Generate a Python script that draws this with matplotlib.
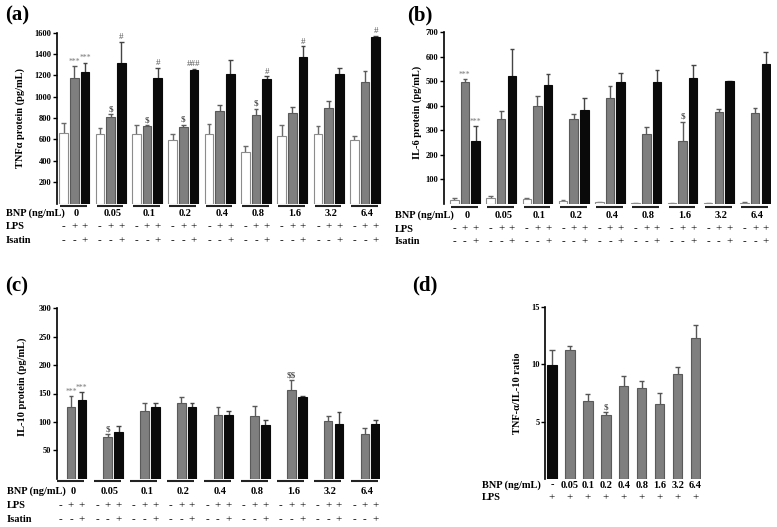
import matplotlib
matplotlib.use('Agg')
import matplotlib.pyplot as plt
import numpy as np
from matplotlib.transforms import blended_transform_factory as btf

# ---------------- data ----------------
bnp_labels = ['0', '0.05', '0.1', '0.2', '0.4', '0.8', '1.6', '3.2', '6.4']
lps_signs = ['-', '+', '+']
isatin_signs = ['-', '-', '+']

tnf_ctrl = [656, 653, 647, 594, 647, 482, 628, 650, 591]
tnf_ctrl_err = [94, 50, 93, 53, 96, 53, 103, 78, 40]
tnf_lps = [1179, 809, 728, 712, 865, 833, 852, 899, 1138]
tnf_lps_err = [105, 25, 6, 28, 62, 56, 56, 65, 103]
tnf_isa = [1235, 1319, 1179, 1253, 1210, 1166, 1371, 1210, 1558]
tnf_isa_err = [84, 196, 93, 7, 130, 25, 100, 59, 12]
tnf_marks_lps = ['***', '$', '$', '$', '', '$', '', '', '']
tnf_marks_isa = ['***', '#', '#', '###', '', '#', '#', '', '#']

il6_ctrl = [16, 24, 20, 10, 5, 2, 1, 1, 4]
il6_ctrl_err = [6, 9, 4, 6, 3, 1, 0.5, 0.5, 2]
il6_lps = [497, 344, 399, 344, 431, 284, 258, 374, 371]
il6_lps_err = [11, 36, 40, 21, 51, 30, 77, 11, 19]
il6_isa = [255, 522, 484, 384, 498, 497, 512, 501, 570]
il6_isa_err = [61, 108, 44, 49, 34, 51, 53, 2, 48]
il6_marks_lps = ['***', '', '', '', '', '', '$', '', '']
il6_marks_isa = ['***', '', '', '', '', '', '', '', '']

il10_lps = [127, 74, 120, 133, 112, 110, 156, 102, 79]
il10_lps_err = [18, 5, 14, 10, 14, 18, 17, 9, 11]
il10_isa = [139, 82, 127, 126, 112, 94, 143, 97, 96]
il10_isa_err = [13, 11, 6, 8, 7, 9, 3, 20, 8]
il10_marks_lps = ['***', '$', '', '', '', '', '$$', '', '']
il10_marks_isa = ['***', '', '', '', '', '', '', '', '']

ratio_labels = ['-', '0.05', '0.1', '0.2', '0.4', '0.8', '1.6', '3.2', '6.4']
ratio_vals = [9.93, 11.23, 6.8, 5.55, 8.1, 7.9, 6.5, 9.12, 12.25]
ratio_err = [1.27, 0.32, 0.58, 0.26, 0.84, 0.64, 0.96, 0.6, 1.15]
ratio_marks = ['', '', '', '$', '', '', '', '', '']

# ---------------- style ----------------
plt.rcParams['font.family'] = ['Liberation Serif', 'DejaVu Serif']
plt.rcParams['text.parse_math'] = False
W, H = 777, 527
fig = plt.figure(figsize=(W / 100, H / 100), dpi=100)

WHITE, GRAY, BLACK = '#ffffff', '#7f7f7f', '#0a0a0a'
GAP, BW = 3.4, 0.8
centers = np.arange(len(bnp_labels)) * GAP


def pxy(y):
    return 1 - y / H


def add_ax(l, t, r, b):
    return fig.add_axes([l / W, 1 - b / H, (r - l) / W, (b - t) / H])


def style(ax, ymax, ticks, ylabel, labx, laby=0.5):
    ax.set_ylim(0, ymax)
    ax.set_yticks(ticks)
    for s in ['top', 'right', 'bottom']:
        ax.spines[s].set_visible(False)
    ax.spines['left'].set_linewidth(1.2)
    ax.tick_params(axis='y', length=3, width=1, labelsize=6, pad=1)
    ax.tick_params(axis='x', bottom=False, labelbottom=False)
    for t in ax.get_yticklabels():
        t.set_fontweight('bold')
    ax.set_ylabel(ylabel, fontsize=7.5, fontweight='bold')
    ax.yaxis.set_label_coords(labx, laby)


def bars(ax, xs, vals, errs, face, edge, ecol, width=BW, cw=0.22, marks=None, mcol='#555555'):
    vals = np.asarray(vals, float)
    errs = np.asarray(errs, float)
    ax.bar(xs, vals, width=width, color=face, edgecolor=edge, linewidth=0.8, zorder=2)
    ax.vlines(xs, vals, vals + errs, color=ecol, lw=1.0, zorder=1)
    ax.hlines(vals + errs, xs - cw, xs + cw, color=ecol, lw=1.0, zorder=1)
    if marks:
        for x, v, e, m in zip(xs, vals, errs, marks):
            if m:
                star = m.startswith('*')
                ax.annotate(m, (x, v + e), xytext=(0, 0.5), textcoords='offset points',
                            ha='center', va='bottom', fontsize=5.5 if star else 6.5,
                            color='#777777' if star else mcol,
                            fontweight='bold' if '$' in m else 'normal')


def rows(ax, labels, y_bnp, y_lps, y_isa, y_line, lab_x):
    tr = btf(ax.transData, fig.transFigure)
    for c, lab in zip(centers, labels):
        ax.plot([c - 1.3, c + 1.2], [pxy(y_line)] * 2, transform=tr, clip_on=False,
                color='#222222', lw=1.5, solid_capstyle='butt')
        ax.text(c + 0.2, pxy(y_bnp), lab, transform=tr, ha='center', va='center',
                fontsize=7.5, fontweight='bold')
        for dx, ls, is_ in zip((-1, 0, 1), lps_signs, isatin_signs):
            ax.text(c + dx, pxy(y_lps), ls, transform=tr, ha='center', va='center', fontsize=8)
            ax.text(c + dx, pxy(y_isa), is_, transform=tr, ha='center', va='center', fontsize=8)
    fig.text(lab_x / W, pxy(y_bnp), 'BNP (ng/mL)', ha='left', va='center', fontsize=7.5, fontweight='bold')
    fig.text(lab_x / W, pxy(y_lps), 'LPS', ha='left', va='center', fontsize=7.5, fontweight='bold')
    fig.text(lab_x / W, pxy(y_isa), 'Isatin', ha='left', va='center', fontsize=7.5, fontweight='bold')


# ---------------- (a) TNF-alpha ----------------
axa = add_ax(57, 32.7, 382, 203.5)
bars(axa, centers - 1, tnf_ctrl, tnf_ctrl_err, WHITE, '#8c8c8c', '#6a6a6a')
bars(axa, centers, tnf_lps, tnf_lps_err, GRAY, '#5a5a5a', '#5a5a5a', marks=tnf_marks_lps)
bars(axa, centers + 1, tnf_isa, tnf_isa_err, BLACK, BLACK, '#444444', marks=tnf_marks_isa)
axa.set_xlim(-1.62, 28.79)
style(axa, 1600, range(200, 1601, 200), 'TNFα protein (pg/mL)', -0.098, 0.5)
rows(axa, bnp_labels, 213, 226.5, 240.5, 206, 6)

# ---------------- (b) IL-6 ----------------
axb = add_ax(444, 32.3, 771, 203.7)
bars(axb, centers - 1, il6_ctrl, il6_ctrl_err, WHITE, '#8c8c8c', '#6a6a6a')
bars(axb, centers, il6_lps, il6_lps_err, GRAY, '#5a5a5a', '#5a5a5a', marks=il6_marks_lps)
bars(axb, centers + 1, il6_isa, il6_isa_err, BLACK, BLACK, '#444444', marks=il6_marks_isa)
axb.set_xlim(-1.96, 28.69)
style(axb, 700, range(100, 701, 100), 'IL-6 protein (pg/mL)', -0.067, 0.53)
rows(axb, bnp_labels, 215, 229, 242, 206.5, 395)

# ---------------- (c) IL-10 ----------------
axc = add_ax(57, 308.3, 380, 478.7)
bars(axc, centers, il10_lps, il10_lps_err, GRAY, '#5a5a5a', '#5a5a5a', marks=il10_marks_lps)
bars(axc, centers + 1, il10_isa, il10_isa_err, BLACK, BLACK, '#444444', marks=il10_marks_isa)
axc.set_xlim(-1.3, 28.6)
style(axc, 300, range(50, 301, 50), 'IL-10 protein (pg/mL)', -0.093, 0.54)
rows(axc, bnp_labels, 491.5, 506, 520, 481, 7)

# ---------------- (d) ratio ----------------
axd = add_ax(545, 306.7, 701, 479.2)
xd = np.arange(len(ratio_vals))
faces = [BLACK] + [GRAY] * (len(ratio_vals) - 1)
edges = [BLACK] + ['#5a5a5a'] * (len(ratio_vals) - 1)
bars(axd, xd, ratio_vals, ratio_err, faces, edges, '#555555', width=0.52, cw=0.14, marks=ratio_marks)
axd.set_xlim(-0.39, 8.3)
style(axd, 15, [5, 10, 15], 'TNF-α/IL-10 ratio', -0.147, 0.5)
trd = btf(axd.transData, fig.transFigure)
for x, lab in zip(xd, ratio_labels):
    axd.text(x, pxy(485), lab, transform=trd, ha='center', va='center', fontsize=7.5, fontweight='bold')
    axd.text(x, pxy(497.5), '+', transform=trd, ha='center', va='center', fontsize=8)
fig.text(482 / W, pxy(485), 'BNP (ng/mL)', ha='left', va='center', fontsize=7.5, fontweight='bold')
fig.text(482 / W, pxy(497.5), 'LPS', ha='left', va='center', fontsize=7.5, fontweight='bold')

# ---------------- panel letters ----------------
for lab, x, y in [('(a)', 5, 15), ('(b)', 407, 15), ('(c)', 5, 286), ('(d)', 412, 285)]:
    fig.text(x / W, pxy(y), lab, ha='left', va='center', fontsize=15, fontweight='bold')

fig.savefig('out.png', dpi=100)
